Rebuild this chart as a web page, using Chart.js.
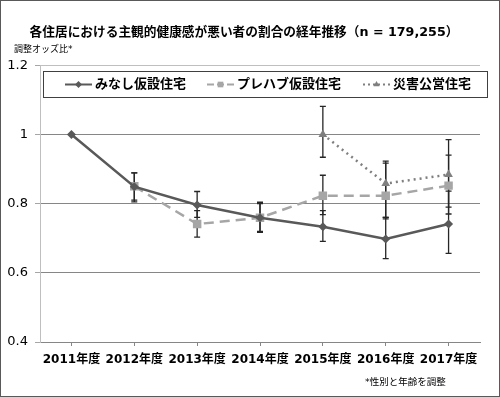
<!DOCTYPE html>
<html>
<head>
<meta charset="utf-8">
<script src="https://cdn.jsdelivr.net/npm/chart.js@4"></script>
<style>
    body { margin: 0; background: #fff; }
</style>
</head>
<body>
<canvas id="trend-chart" width="500" height="397"></canvas>
<script>
// Categories and values
const years = ['2011年度', '2012年度', '2013年度', '2014年度', '2015年度', '2016年度', '2017年度'];

const minashi = [1.0, 0.849, 0.796, 0.759, 0.733, 0.698, 0.741];
const minashiLow = [null, 0.81, 0.76, 0.72, 0.691, 0.641, 0.656];
const minashiHigh = [null, 0.889, 0.835, 0.80, 0.78, 0.76, 0.836];

const prefab = [null, 0.85, 0.741, 0.759, 0.823, 0.823, 0.852];
const prefabLow = [null, 0.805, 0.703, 0.717, 0.768, 0.756, 0.77];
const prefabHigh = [null, 0.889, 0.78, 0.804, 0.882, 0.917, 0.94];

const koei = [null, null, null, null, 1.0, 0.858, 0.884];
const koeiLow = [null, null, null, null, 0.934, 0.76, 0.79];
const koeiHigh = [null, null, null, null, 1.081, 0.923, 0.985];

const yTicks = [0.4, 0.6, 0.8, 1.0, 1.2];

const FONT = "'DejaVu Sans', 'Noto Sans CJK JP', sans-serif";

document.addEventListener('DOMContentLoaded', function() {
    renderChart();
});

// Error bars, drawn through the chart's own scales
const errorBars = {
    id: 'errorBars',
    beforeDatasetsDraw(chart) {
        const ctx = chart.ctx;
        const x = chart.scales.x, y = chart.scales.y;
        ctx.save();
        ctx.strokeStyle = '#262626';
        ctx.lineWidth = 1.3;
        chart.data.datasets.forEach(ds => {
            ds.data.forEach((v, i) => {
                if (ds.low[i] == null) return;
                const px = x.getPixelForValue(i);
                const y1 = y.getPixelForValue(ds.low[i]);
                const y2 = y.getPixelForValue(ds.high[i]);
                ctx.beginPath();
                ctx.moveTo(px, y1); ctx.lineTo(px, y2);
                ctx.moveTo(px - 3, y1); ctx.lineTo(px + 3, y1);
                ctx.moveTo(px - 3, y2); ctx.lineTo(px + 3, y2);
                ctx.stroke();
            });
        });
        ctx.restore();
    }
};

// Boxed legend sitting inside the plot, plus the small notes and the frame
const extras = {
    id: 'extras',
    beforeDraw(chart) {
        const ctx = chart.ctx;
        ctx.save();
        ctx.fillStyle = '#fff';
        ctx.fillRect(0, 0, chart.width, chart.height);
        ctx.restore();
    },
    afterDraw(chart) {
        const ctx = chart.ctx;
        ctx.save();

        // legend box
        ctx.fillStyle = '#fff';
        ctx.fillRect(43.5, 71.5, 444, 26);
        ctx.strokeStyle = '#404040';
        ctx.lineWidth = 1;
        ctx.strokeRect(43.5, 71.5, 444, 26);

        const itemX = [65, 207, 363];
        const cy = 84.5;
        chart.data.datasets.forEach((ds, i) => {
            const x0 = itemX[i];
            ctx.strokeStyle = ds.borderColor;
            ctx.lineWidth = 2;
            ctx.setLineDash(ds.legendDash);
            ctx.beginPath();
            ctx.moveTo(x0, cy); ctx.lineTo(x0 + 27, cy);
            ctx.stroke();
            ctx.setLineDash([]);
            ctx.fillStyle = ds.pointBackgroundColor;
            ctx.strokeStyle = ds.pointBackgroundColor;
            Chart.helpers.drawPoint(ctx, { pointStyle: ds.pointStyle, radius: ds.legendRadius, rotation: 0, borderWidth: 0 }, x0 + 13.5, cy);
            ctx.fillStyle = '#000';
            ctx.font = 'bold 13px ' + FONT;
            ctx.textBaseline = 'middle';
            ctx.fillText(ds.label, x0 + 30, cy);
        });

        // axis title and footnote
        ctx.fillStyle = '#000';
        ctx.font = '9px ' + FONT;
        ctx.textBaseline = 'middle';
        ctx.fillText('調整オッズ比*', 14, 50);
        ctx.font = '9.5px ' + FONT;
        ctx.fillText('*性別と年齢を調整', 365, 383);

        // outer frame
        ctx.strokeStyle = '#595959';
        ctx.lineWidth = 1;
        ctx.strokeRect(0.5, 0.5, chart.width - 1, chart.height - 1);
        ctx.restore();
    }
};

function renderChart() {
    const ctx = document.getElementById('trend-chart').getContext('2d');
    new Chart(ctx, {
        type: 'line',
        data: {
            labels: years,
            datasets: [{
                label: 'みなし仮設住宅',
                data: minashi, low: minashiLow, high: minashiHigh,
                borderColor: '#595959',
                borderWidth: 2.5,
                pointStyle: 'rectRot',
                pointRadius: 4.5,
                pointBackgroundColor: '#595959',
                pointBorderWidth: 0,
                legendDash: [], legendRadius: 3.5,
                tension: 0
            }, {
                label: 'プレハブ仮設住宅',
                data: prefab, low: prefabLow, high: prefabHigh,
                borderColor: '#a6a6a6',
                borderWidth: 2.5,
                borderDash: [10, 6],
                pointStyle: 'rect',
                pointRadius: 6,
                pointBackgroundColor: '#a6a6a6',
                pointBorderWidth: 0,
                legendDash: [7, 3], legendRadius: 4,
                tension: 0
            }, {
                label: '災害公営住宅',
                data: koei, low: koeiLow, high: koeiHigh,
                borderColor: '#7f7f7f',
                borderWidth: 2.5,
                borderDash: [2, 4],
                pointStyle: 'triangle',
                pointRadius: 5,
                pointBackgroundColor: '#7f7f7f',
                pointBorderWidth: 0,
                legendDash: [2, 3], legendRadius: 3.5,
                tension: 0
            }]
        },
        options: {
            responsive: false,
            animation: false,
            layout: { padding: { left: 8, right: 20, top: 0, bottom: 0 } },
            plugins: {
                legend: { display: false },
                tooltip: { enabled: false },
                title: {
                    display: true,
                    text: '各住居における主観的健康感が悪い者の割合の経年推移（n = 179,255）',
                    color: '#000',
                    font: { family: FONT, size: 12.7, weight: 'bold', lineHeight: 1.2 },
                    padding: { top: 25, bottom: 25 }
                }
            },
            scales: {
                x: {
                    offset: true,
                    grid: { display: true, drawOnChartArea: false, tickLength: 4, color: '#868686' },
                    border: { color: '#868686' },
                    ticks: {
                        color: '#000',
                        padding: 7,
                        maxRotation: 0,
                        font: { family: FONT, size: 12, weight: 'bold' }
                    },
                    afterFit(scale) { scale.height = 55; }
                },
                y: {
                    min: 0.4,
                    max: 1.2,
                    afterBuildTicks(scale) { scale.ticks = yTicks.map(v => ({ value: v })); },
                    grid: {
                        tickLength: 5,
                        color: c => (c.tick && c.tick.value > 1.19) ? '#bfbfbf' : '#868686',
                        tickColor: '#a6a6a6'
                    },
                    border: { color: '#bfbfbf' },
                    ticks: {
                        color: '#000',
                        padding: 7,
                        font: { family: FONT, size: 13 },
                        callback: v => String(Math.round(v * 10) / 10)
                    },
                    afterFit(scale) { scale.width = 32; }
                }
            }
        },
        plugins: [errorBars, extras]
    });
}
</script>
</body>
</html>
